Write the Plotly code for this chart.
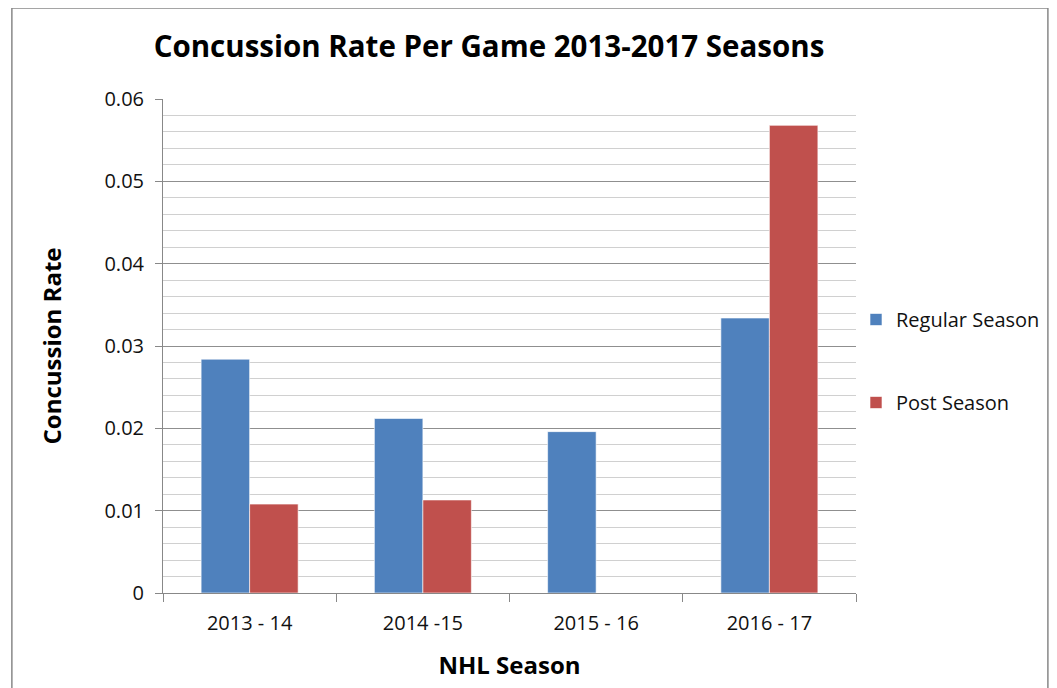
import plotly.graph_objects as go

seasons = ["2013 - 14", "2014 -15", "2015 - 16", "2016 - 17"]
regular_season = [0.0284, 0.0212, 0.0196, 0.0334]
post_season = [0.0108, 0.0113, 0.0, 0.0568]
y_ticks = [0, 0.01, 0.02, 0.03, 0.04, 0.05, 0.06]
y_tick_labels = ["0", "0.01", "0.02", "0.03", "0.04", "0.05", "0.06"]

FONT = "Open Sans"
OFF = 8  # browser body margin

fig = go.Figure()
fig.add_trace(go.Bar(
    x=seasons, y=regular_season, name="Regular Season",
    marker=dict(color="#4F81BD", line=dict(color="rgba(255,255,255,0.6)", width=1)),
    legendgroup="a",
))
fig.add_trace(go.Bar(
    x=seasons, y=post_season, name="Post Season",
    marker=dict(color="#C0504D", line=dict(color="rgba(255,255,255,0.6)", width=1)),
    legendgroup="b",
))

W, H = 1049, 680
L, R, T, B = 163 - OFF, W - (860 - OFF), 99 - OFF, H - (593 - OFF)
pw, ph = W - L - R, H - T - B

def px_x(p):
    return (p - OFF - L) / pw

def px_y(p):
    return (H - B - (p - OFF)) / ph

fig.update_layout(
    width=W, height=H,
    margin=dict(l=L, r=R, t=T, b=B),
    paper_bgcolor="white", plot_bgcolor="white",
    barmode="group", bargap=0.44, bargroupgap=0,
    title=dict(text="<b>Concussion Rate Per Game 2013-2017 Seasons</b>",
               x=(489 - OFF) / W, xanchor="center", y=1 - (47 - OFF) / H, yanchor="middle",
               font=dict(family=FONT, size=29.5, color="black")),
    font=dict(family=FONT, color="black"),
    legend=dict(x=px_x(860), y=px_y(300), xanchor="left", yanchor="top",
                font=dict(family=FONT, size=20, color="#111111"),
                tracegroupgap=54, bgcolor="rgba(0,0,0,0)"),
    xaxis=dict(
        type="category", tickson="boundaries", ticks="outside", ticklen=8,
        tickcolor="#888888", showline=True, linecolor="#888888", linewidth=1,
        tickfont=dict(family=FONT, size=20, color="#111111"),
        ticklabelstandoff=12,
        title=dict(text="<b>NHL Season</b>", standoff=22,
                   font=dict(family=FONT, size=24, color="black")),
        showgrid=False,
    ),
    yaxis=dict(
        range=[0, 0.06], tickvals=y_ticks, ticktext=y_tick_labels,
        ticks="outside", ticklen=7, tickcolor="#888888",
        showline=True, linecolor="#888888", linewidth=1,
        gridcolor="#8f8f8f", gridwidth=1,
        minor=dict(dtick=0.002, showgrid=True, gridcolor="#d0d0d0", gridwidth=1),
        tickfont=dict(family=FONT, size=20, color="#111111"),
        ticklabelstandoff=7,
        title=dict(text="<b>Concussion Rate</b>", standoff=36,
                   font=dict(family=FONT, size=24, color="black")),
        zeroline=False,
    ),
    shapes=[dict(type="rect", xref="paper", yref="paper",
                 x0=px_x(11), x1=px_x(1053), y0=px_y(720), y1=px_y(8),
                 line=dict(color="#888888", width=1.5), layer="below")],
)

fig.write_html("out.html")
